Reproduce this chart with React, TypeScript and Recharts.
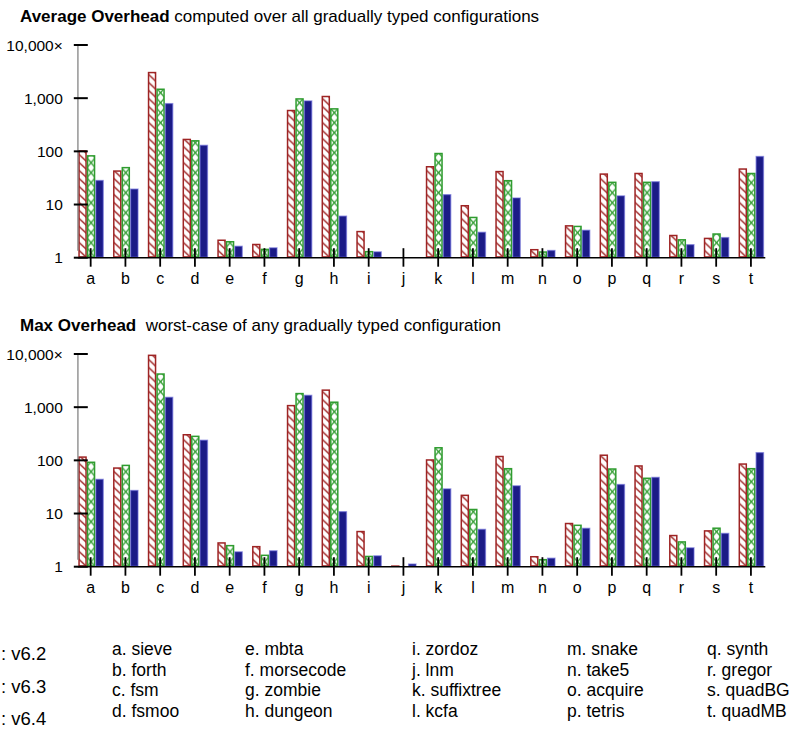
import React from 'react';
import { BarChart, Bar, XAxis, YAxis, ReferenceLine } from 'recharts';

// benchmark letters along the x axis
const categories = ['a', 'b', 'c', 'd', 'e', 'f', 'g', 'h', 'i', 'j', 'k', 'l', 'm', 'n', 'o', 'p', 'q', 'r', 's', 't'];

// average overhead, one value per benchmark
const avgV62 = [105, 44, 3130, 173, 2.2, 1.83, 605, 1110, 3.2, 1, 53, 9.8, 43, 1.46, 4.1, 38.6, 39.6, 2.7, 2.38, 48];
const avgV63 = [85, 51, 1520, 163, 2.06, 1.48, 1000, 650, 1.34, 1, 94, 5.9, 29, 1.32, 4.0, 27, 27, 2.24, 2.88, 39.6];
const avgV64 = [29, 20, 810, 133, 1.68, 1.57, 910, 6.2, 1.32, 1, 15.7, 3.08, 13.6, 1.4, 3.36, 14.9, 27.5, 1.8, 2.45, 82];

// max overhead
const maxV62 = [119, 74, 9750, 313, 2.89, 2.46, 1105, 2160, 4.73, 1.06, 105, 22.7, 122, 1.59, 6.7, 129, 81, 3.98, 4.87, 88];
const maxV63 = [95, 83, 4340, 292, 2.57, 1.69, 1860, 1280, 1.61, 1.03, 178, 12.3, 72, 1.4, 6.2, 71, 47.5, 3.02, 5.47, 72];
const maxV64 = [45, 27.8, 1570, 245, 1.95, 2.04, 1710, 11.1, 1.64, 1.15, 29.8, 5.16, 34, 1.48, 5.4, 36, 49, 2.32, 4.33, 143];

const yTicks = [1, 10, 100, 1000, 10000];
const yTickLabels = ['1', '10', '100', '1,000', '10,000×'];

const versions = ['v6.2', 'v6.3', 'v6.4'];
const benchmarks = [
  'sieve', 'forth', 'fsm', 'fsmoo', 'mbta', 'morsecode', 'zombie', 'dungeon', 'zordoz', 'lnm',
  'suffixtree', 'kcfa', 'snake', 'take5', 'acquire', 'tetris', 'synth', 'gregor', 'quadBG', 'quadMB',
];

const FONT = '"Liberation Sans", Arial, Helvetica, sans-serif';
const RED = '#9e2424';
const GREEN = '#2f9c2f';
const NAVY = '#1b1b86';
const BAR = 8.5;
const AXIS_SHIFT = 4.5; // y axis sits at the left edge of the first bar

const makeBarShape = (prefix: string, kind: 'red' | 'green' | 'blue') => (props: any) => {
  const { x, y, width, height, index } = props;
  if (!height || height < 0.3) return null;
  const color = kind === 'red' ? RED : kind === 'green' ? GREEN : NAVY;
  if (height < 3) {
    // too short for an outline: a plain sliver
    return <rect x={x} y={y} width={width} height={Math.max(height, 1.5)} fill={color} />;
  }
  if (kind === 'blue') {
    return (
      <rect
        x={x + 0.6}
        y={y + 0.6}
        width={width - 1.2}
        height={height - 1.2}
        fill={NAVY}
        stroke="rgba(90,90,210,0.55)"
        strokeWidth={1.4}
      />
    );
  }
  const id = `${prefix}-${kind}-${index}`;
  const ph = kind === 'red' ? 8 : 10;
  return (
    <g>
      <defs>
        <pattern id={id} patternUnits="userSpaceOnUse" x={x} y={y + height} width={width} height={ph}>
          <line x1={0} y1={0} x2={width} y2={ph} stroke={color} strokeWidth={1.4} />
          {kind === 'green' && <line x1={width} y1={0} x2={0} y2={ph} stroke={color} strokeWidth={1.4} />}
        </pattern>
      </defs>
      <rect
        x={x + 0.75}
        y={y + 0.75}
        width={width - 1.5}
        height={height - 1.5}
        fill={`url(#${id})`}
        stroke={color}
        strokeWidth={1.5}
      />
    </g>
  );
};

const YTick = (props: any) => {
  const { x, y, payload } = props;
  const ax = x + AXIS_SHIFT;
  const label = yTickLabels[yTicks.indexOf(payload.value)];
  return (
    <g>
      <line x1={ax - 4} y1={y} x2={ax + 10} y2={y} stroke="#000" strokeWidth={2} />
      <text x={ax - 15} y={y} dy="0.36em" textAnchor="end" fontSize={15.5} fontFamily={FONT} fill="#000">
        {label}
      </text>
    </g>
  );
};

const XTick = (props: any) => {
  const { x, y, payload } = props;
  return (
    <g>
      <line x1={x} y1={y - 9.5} x2={x} y2={y + 9} stroke="#000" strokeWidth={1.8} />
      <text x={x} y={y + 21} dy="0.36em" textAnchor="middle" fontSize={16} fontFamily={FONT} fill="#000">
        {payload.value}
      </text>
    </g>
  );
};

interface PanelProps {
  id: string;
  top: number;
  title: string;
  subtitle: string;
  v62: number[];
  v63: number[];
  v64: number[];
}

function Panel({ id, top, title, subtitle, v62, v63, v64 }: PanelProps) {
  const data = categories.map((name, i) => ({ name, v62: v62[i], v63: v63[i], v64: v64[i] }));
  return (
    <div style={{ position: 'absolute', left: 0, top, width: 792, height: 300 }}>
      <div
        style={{
          position: 'absolute',
          left: 20,
          top: 7,
          fontFamily: FONT,
          fontSize: 17,
          lineHeight: '20px',
          whiteSpace: 'pre',
          color: '#000',
        }}
      >
        <b>{title}</b>
        {subtitle}
      </div>
      <BarChart
        width={792}
        height={300}
        data={data}
        barGap={0}
        margin={{ top: 45, right: 23.7, bottom: 12.3, left: 0 }}
      >
        <YAxis
          type="number"
          scale="log"
          domain={[1, 10000]}
          allowDataOverflow
          ticks={yTicks}
          width={73.3}
          axisLine={false}
          tickLine={false}
          tickSize={0}
          tickMargin={0}
          tick={<YTick />}
        />
        <Bar dataKey="v62" barSize={BAR} isAnimationActive={false} shape={makeBarShape(id, 'red')} />
        <Bar dataKey="v63" barSize={BAR} isAnimationActive={false} shape={makeBarShape(id, 'green')} />
        <Bar dataKey="v64" barSize={BAR} isAnimationActive={false} shape={makeBarShape(id, 'blue')} />
        <ReferenceLine
          x={categories[0]}
          position="middle"
          shape={(p: any) => (
            <line x1={p.x1 - 1.5 * BAR} y1={p.y1 - 7} x2={p.x2 - 1.5 * BAR} y2={p.y2} stroke="#7a7a7a" strokeWidth={1.2} />
          )}
        />
        <ReferenceLine
          y={1}
          shape={(p: any) => (
            <line x1={p.x1 + AXIS_SHIFT} y1={p.y1} x2={p.x2 - 3} y2={p.y2} stroke="#000" strokeWidth={1.5} />
          )}
        />
        <XAxis
          dataKey="name"
          axisLine={false}
          tickLine={false}
          tickSize={0}
          tickMargin={0}
          height={30}
          interval={0}
          tick={<XTick />}
        />
      </BarChart>
    </div>
  );
}

export default function App() {
  const legendCols = [0, 4, 8, 12, 16];
  const colX = [112, 245, 412, 567, 707];
  return (
    <div style={{ position: 'absolute', left: 0, top: 0, width: 792, height: 729, background: '#fff', fontFamily: FONT }}>
      <Panel
        id="avg"
        top={0}
        title="Average Overhead"
        subtitle=" computed over all gradually typed configurations"
        v62={avgV62}
        v63={avgV63}
        v64={avgV64}
      />
      <Panel
        id="max"
        top={309}
        title="Max Overhead"
        subtitle="  worst-case of any gradually typed configuration"
        v62={maxV62}
        v63={maxV63}
        v64={maxV64}
      />
      {versions.map((v, i) => (
        <div
          key={v}
          style={{ position: 'absolute', left: 1, top: 643 + i * 32.5, fontSize: 18.5, lineHeight: '22px', color: '#000' }}
        >
          {`: ${v}`}
        </div>
      ))}
      {legendCols.map((start, c) =>
        [0, 1, 2, 3].map((r) => {
          const k = start + r;
          return (
            <div
              key={k}
              style={{
                position: 'absolute',
                left: colX[c],
                top: 638 + r * 20.5,
                fontSize: 17.5,
                lineHeight: '22px',
                color: '#000',
                whiteSpace: 'pre',
              }}
            >
              {`${categories[k]}. ${benchmarks[k]}`}
            </div>
          );
        })
      )}
    </div>
  );
}
